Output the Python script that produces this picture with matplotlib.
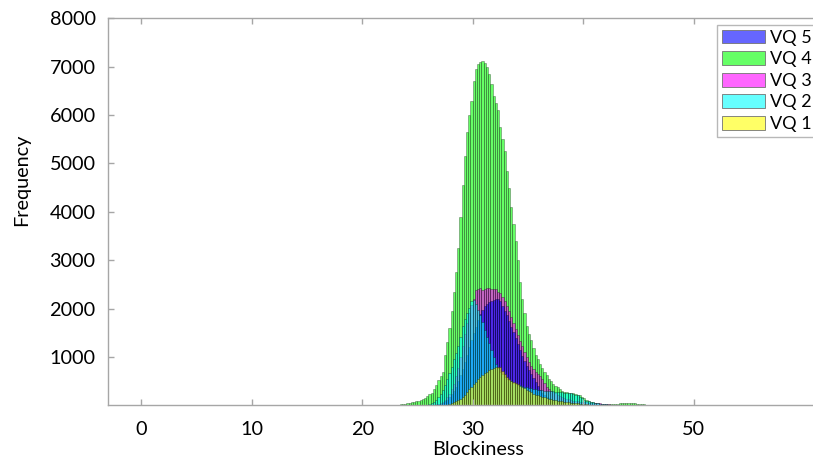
import numpy as np
import matplotlib
matplotlib.use("Agg")
import matplotlib.pyplot as plt
from matplotlib.patches import Patch

plt.rcParams['font.family'] = ['Lato', 'DejaVu Sans']

bin_width = 0.2

# VQ 4 (green)
vq4_start = 23.0
vq4_counts = [
    10, 15, 22, 30, 38, 45, 52, 60, 70, 82,
    95, 110, 130, 160, 190, 230, 260, 330, 420, 520,
    610, 700, 1050, 1300, 1600, 1950, 2350, 2750, 3250, 3900,
    4550, 5150, 5650, 6000, 6300, 6700, 6950, 7050, 7100, 7120,
    7080, 7000, 6850, 6650, 6400, 6250, 6100, 5750, 5500, 5250,
    4850, 4500, 4100, 3750, 3400, 3000, 2550, 2200, 1900, 1650,
    1480, 1350, 1180, 1050, 950, 860, 770, 690, 620, 555,
    500, 450, 405, 370, 335, 305, 285, 270, 260, 255,
    250, 240, 225, 205, 175, 145, 120, 100, 80, 65,
    52, 44, 38, 34, 32, 30, 28, 26, 25, 28,
    35, 45, 52, 55, 58, 55, 52, 48, 42, 35,
    28, 22, 20, 18, 17, 16, 15, 14, 12, 10,
    8, 6, 4,
]

# VQ 3 (magenta)
vq3_start = 26.6
vq3_counts = [
    20, 35, 55, 80, 120, 170, 240, 330, 450, 600,
    780, 1000, 1230, 1470, 1700, 1900, 2080, 2200, 2380, 2400,
    2420, 2380, 2400, 2430, 2420, 2400, 2410, 2400, 2350, 2330,
    2250, 2150, 2050, 1950, 1820, 1700, 1580, 1460, 1340, 1220,
    1100, 990, 900, 820, 750, 690, 640, 600, 540, 460,
    390, 340, 300, 275, 250, 225, 200, 180, 160, 140,
    125, 110, 100, 90, 82, 75, 70, 65, 60, 57,
    55, 52, 50, 45, 40, 35, 30, 25, 20, 16,
    12, 8,
]

# VQ 5 (blue)
vq5_start = 26.8
vq5_counts = [
    20, 35, 55, 85, 120, 170, 230, 300, 390, 500,
    620, 760, 900, 1050, 1200, 1350, 1500, 1630, 1760, 1880,
    1980, 2050, 2100, 2130, 2150, 2170, 2190, 2200, 2150, 2060,
    1960, 1860, 1750, 1630, 1510, 1390, 1270, 1150, 1030, 920,
    820, 740, 650, 560, 480, 400, 310, 250, 210, 180,
    160, 140, 120, 105, 92, 80, 70, 62, 55, 50,
    45, 40, 36, 32, 28, 25, 20, 17, 14, 11,
    8,
]

# VQ 2 (cyan)
vq2_start = 26.0
vq2_counts = [
    20, 40, 65, 110, 170, 230, 320, 430, 540, 660,
    800, 950, 1080, 1220, 1420, 1640, 1780, 1900, 2020, 2150,
    2180, 2100, 1980, 1860, 1720, 1560, 1420, 1280, 1150, 1000,
    860, 770, 700, 640, 590, 550, 520, 495, 470, 450,
    430, 415, 400, 385, 370, 360, 350, 340, 330, 320,
    315, 310, 305, 300, 300, 295, 290, 285, 280, 275,
    270, 265, 260, 255, 250, 240, 225, 205, 175, 145,
    120, 100, 85, 72, 60, 50, 42, 36, 30, 25,
    20, 15, 11, 8,
]

# VQ 1 (yellow)
vq1_start = 27.6
vq1_counts = [
    10, 25, 40, 60, 85, 110, 140, 170, 220, 280,
    340, 390, 440, 490, 540, 580, 620, 660, 700, 730,
    755, 770, 785, 800, 790, 720, 650, 590, 540, 510,
    490, 465, 440, 410, 380, 350, 320, 295, 270, 245,
    225, 210, 195, 180, 165, 150, 140, 130, 120, 110,
    100, 90, 82, 75, 68, 62, 56, 50, 45, 40,
    35, 30, 25, 20, 16, 12, 8,
]

x_ticks = [0, 10, 20, 30, 40, 50]
y_ticks = [1000, 2000, 3000, 4000, 5000, 6000, 7000, 8000]

series = [
    ("VQ 4", vq4_start, vq4_counts, (0, 1, 0)),
    ("VQ 3", vq3_start, vq3_counts, (1, 0, 1)),
    ("VQ 5", vq5_start, vq5_counts, (0, 0, 1)),
    ("VQ 2", vq2_start, vq2_counts, (0, 1, 1)),
    ("VQ 1", vq1_start, vq1_counts, (1, 1, 0)),
]
legend_order = ["VQ 5", "VQ 4", "VQ 3", "VQ 2", "VQ 1"]

fig = plt.figure(figsize=(8.13, 4.59), dpi=100)
ax = fig.add_axes([108 / 813, 1 - 405.4 / 459, 705 / 813, (405.4 - 18.3) / 459])

alpha = 0.6
handles = {}
for name, start, counts, col in series:
    counts = np.asarray(counts, dtype=float)
    lefts = start + np.arange(len(counts)) * bin_width
    ax.bar(lefts, counts, width=bin_width, align='edge',
           color=(*col, alpha), edgecolor=(0, 0, 0, 0.4), linewidth=0.5)
    handles[name] = Patch(facecolor=(*col, alpha), edgecolor=(0.45, 0.45, 0.45), linewidth=0.6, label=name)

ax.set_xlim(-3, 60.8)
ax.set_ylim(0, 8000)
ax.set_xticks(x_ticks)
ax.set_yticks(y_ticks)

spine_col = '#a6a6a6'
for s in ax.spines.values():
    s.set_color(spine_col)
    s.set_linewidth(1.0)
ax.spines['right'].set_visible(False)
ax.tick_params(axis='both', direction='in', colors=spine_col, length=4, width=1,
               labelcolor='black', labelsize=14.3, top=True)
ax.tick_params(axis='y', pad=9)
ax.tick_params(axis='x', pad=11)

ax.set_xlabel("Blockiness", fontsize=14.3)
ax.set_ylabel("Frequency", fontsize=14.3)
ax.xaxis.set_label_coords(0.525, -0.115)
ax.yaxis.set_label_coords(-0.122, 0.582)
ax.xaxis.label.set_va('center')
ax.yaxis.label.set_va('center')

leg = fig.legend(handles=[handles[n] for n in legend_order],
                 loc='upper left', bbox_to_anchor=(717 / 813, 1 - 25 / 459),
                 fontsize=13, frameon=True, fancybox=False,
                 handlelength=2.4, handleheight=0.8, handletextpad=0.3,
                 labelspacing=0.3, borderpad=0.25, borderaxespad=0)
leg.get_frame().set_edgecolor(spine_col)
leg.get_frame().set_linewidth(1.0)

fig.savefig("out.png", dpi=100)
